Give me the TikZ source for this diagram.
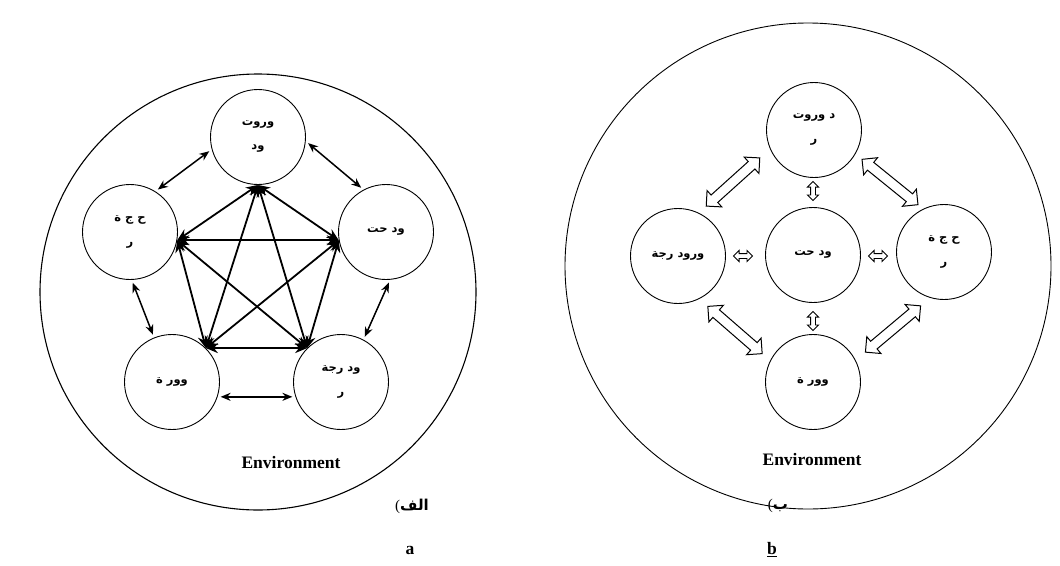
\documentclass[tikz,border=0pt]{standalone}
\usepackage{fontspec}
\setmainfont{Liberation Serif}
\newfontfamily\arabicfont[Script=Arabic]{DejaVu Sans Bold}
\TeXXeTstate=1
\usetikzlibrary{arrows.meta,shapes.arrows,calc}
\newcommand{\arb}[1]{{\arabicfont\beginR #1\endR}}
\begin{document}
\begin{tikzpicture}[x=1pt,y=-1pt,
  circ/.style={circle, draw, line width=0.9pt, minimum size=95pt, inner sep=0pt, align=center, font=\fontsize{11.5}{13}\selectfont},
  inarr/.style={line width=1.8pt, {Stealth[length=12pt,width=10pt]}-{Stealth[length=12pt,width=10pt]}},
  outarr/.style={line width=1.5pt, {Stealth[length=10pt,width=8pt]}-{Stealth[length=10pt,width=8pt]}, shorten <=3pt, shorten >=3pt},
  bigarr/.style={shape=double arrow, draw, fill=white, line width=1pt, minimum height=72pt, inner sep=4.5pt, double arrow head extend=6pt},
  smallarr/.style={shape=double arrow, draw, fill=white, line width=0.8pt, minimum height=19pt, inner sep=2pt, double arrow head extend=3.2pt},
  lab/.style={font=\fontsize{17.5}{20}\selectfont\bfseries}
]
\useasboundingbox (0,0) rectangle (1060,565);
% environment circles
\draw[line width=1.1pt] (258,292) circle[radius=218pt];
\draw[line width=0.9pt] (808,266) circle[radius=243pt];

% ---------- left diagram ----------
\node[circ] (T) at (258,137) {\arb{وروت}\\[11pt]\arb{ود}};
\node[circ] (L) at (130,232) {\arb{ح ج ة}\\[11pt]\arb{ر}};
\node[circ] (R) at (386,232) {\arb{ود حت}};
\node[circ] (BL) at (172,382) {\arb{وور ة}};
\node[circ] (BR) at (341,382) {\arb{ود رجة}\\[11pt]\arb{ر}};

\coordinate (vt) at (T.270);
\coordinate (vl) at (L.-10);
\coordinate (vr) at (R.190);
\coordinate (vbl) at (BL.45);
\coordinate (vbr) at (BR.135);
\foreach \a/\b in {vt/vl,vt/vr,vt/vbl,vt/vbr,vl/vr,vl/vbl,vl/vbr,vr/vbl,vr/vbr,vbl/vbr}
  \draw[inarr] (\a) -- (\b);

\draw[outarr] (L.58) -- (T.195);
\draw[outarr] (T.-5) -- (R.118);
\draw[outarr] (L.-88) -- (BL.112);
\draw[outarr] (R.-85) -- (BR.62);
\draw[outarr] (BL.-18) -- (BR.198);

\node[lab] (env1) at (291,463) {Environment};
\node[font=\fontsize{15}{17}\selectfont] (fa) at (412,506) {(\arb{الف}};
\node[lab] (la) at (410,550) {a};

% ---------- right diagram ----------
\node[circ] (T2) at (814,130) {\arb{د وروت}\\[11pt]\arb{ر}};
\node[circ] (L2) at (678,256) {\arb{ورود رجة}};
\node[circ] (C2) at (813,255) {\arb{ود حت}};
\node[circ] (R2) at (944,252) {\arb{ح ج ة}\\[11pt]\arb{ر}};
\node[circ] (B2) at (813,382) {\arb{وور ة}};

\node[bigarr, rotate=42] (a1) at (733,182) {};
\node[bigarr, rotate=-39] (a2) at (890,182) {};
\node[bigarr, rotate=-41] (a3) at (735,330) {};
\node[bigarr, rotate=40] (a4) at (893,329) {};
\node[smallarr] (s1) at (743,256) {};
\node[smallarr] (s2) at (878,256) {};
\node[smallarr, rotate=90] (s3) at (813,191) {};
\node[smallarr, rotate=90] (s4) at (813,321) {};

\node[lab] (env2) at (812,460) {Environment};
\node[font=\fontsize{15}{17}\selectfont] (fb) at (778,506) {(\arb{ب}};
\node[lab] (lb) at (772,550) {\underline{b}};
\end{tikzpicture}
\end{document}
